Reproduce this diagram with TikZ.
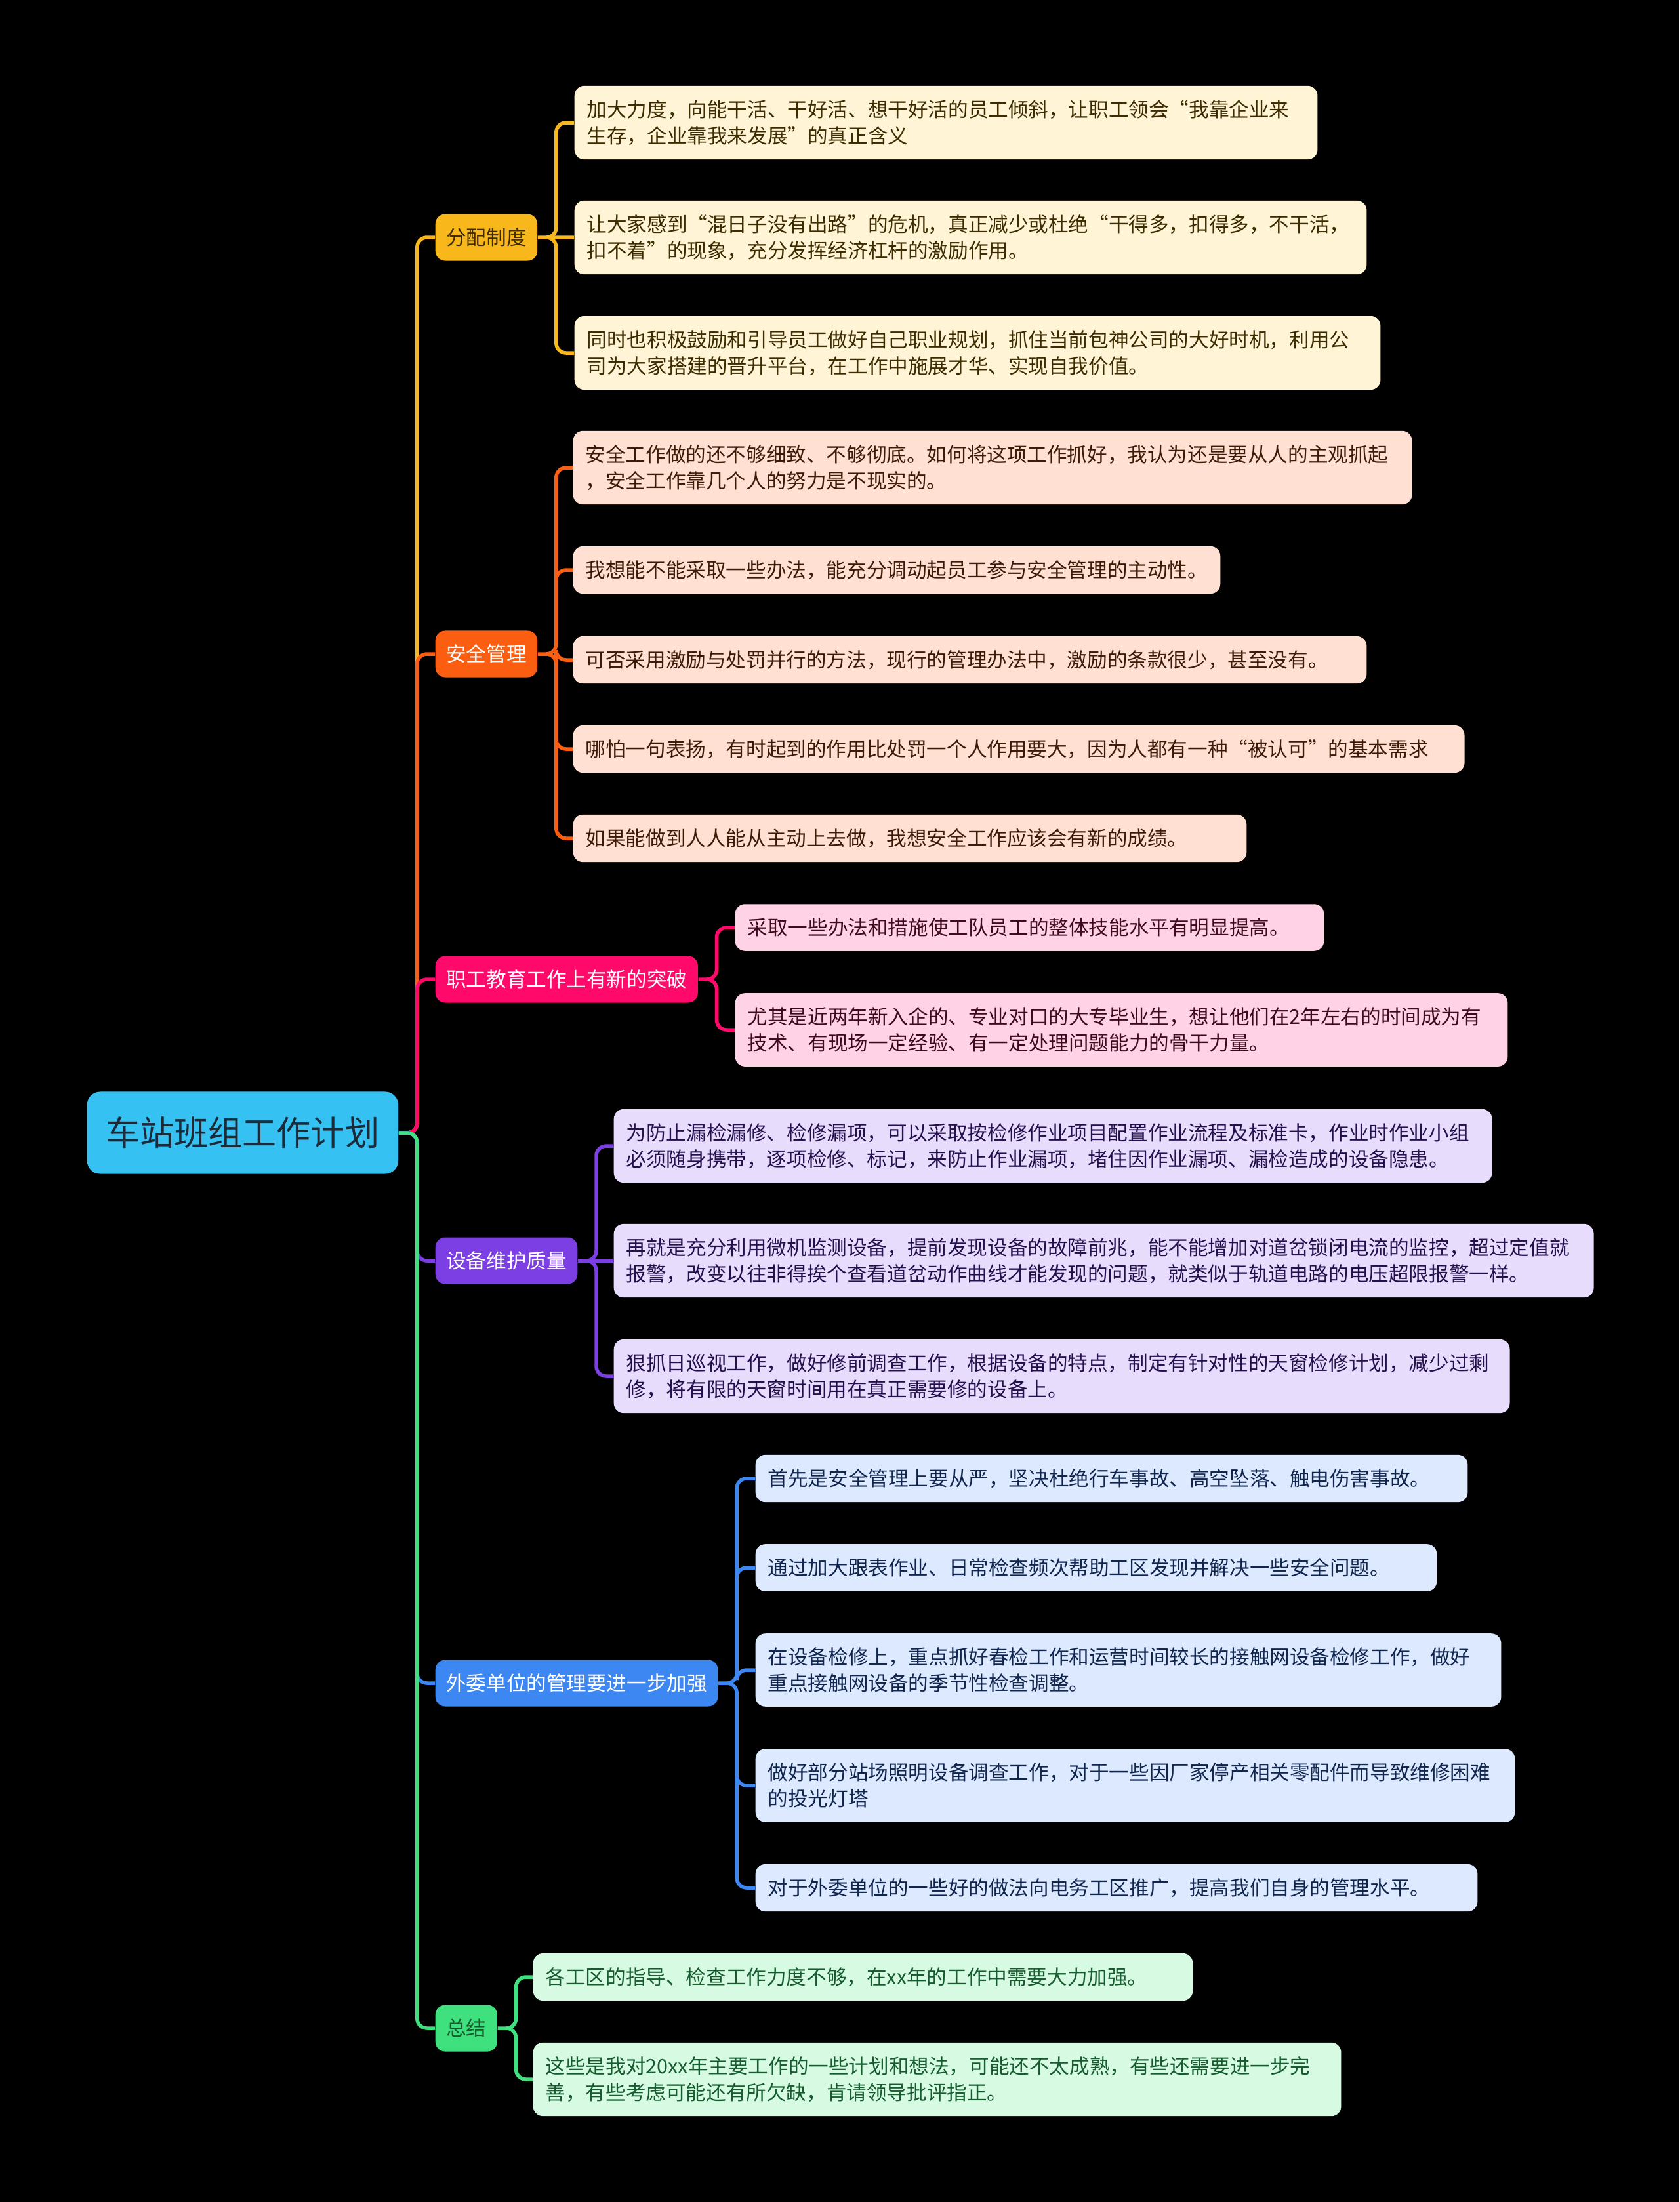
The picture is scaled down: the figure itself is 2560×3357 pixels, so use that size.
\documentclass[tikz,border=0pt]{standalone}
\usepackage{fontspec}
\setmainfont{Noto Sans CJK SC}
\usepackage{tikz}
\usetikzlibrary{positioning}

\definecolor{rootc}{HTML}{35C2F2}
\definecolor{roottx}{HTML}{1B2B3A}
\definecolor{fpc}{HTML}{F8B81C}
\definecolor{fpl}{HTML}{FFF4D6}
\definecolor{fptx}{HTML}{3D2C00}
\definecolor{aqc}{HTML}{FB5E10}
\definecolor{aql}{HTML}{FFE0D2}
\definecolor{aqtx}{HTML}{3E1A08}
\definecolor{zgc}{HTML}{FF0A6B}
\definecolor{zgl}{HTML}{FFD3E5}
\definecolor{zgtx}{HTML}{3F0A1E}
\definecolor{sbc}{HTML}{7C3FE3}
\definecolor{sbl}{HTML}{E7DCFB}
\definecolor{sbtx}{HTML}{25104F}
\definecolor{wwc}{HTML}{3D87F2}
\definecolor{wwl}{HTML}{DCE9FE}
\definecolor{wwtx}{HTML}{11264F}
\definecolor{zjc}{HTML}{3FE17F}
\definecolor{zjl}{HTML}{D7FAE3}
\definecolor{zjtx}{HTML}{155C2E}

\newcommand{\leaffont}{\fontsize{8.7}{11.4}\selectfont}

\begin{document}
\begin{tikzpicture}[
  x=0.01cm, y=-0.01cm,
  main/.style={rectangle, rounded corners=0.2cm, fill=rootc, text=roottx,
    font=\fontsize{14.8}{18}\selectfont, inner xsep=0.29cm,
    minimum height=1.25cm, anchor=west},
  topic/.style={rectangle, rounded corners=0.15cm, inner xsep=0.165cm,
    minimum height=0.71cm, anchor=west, font=\leaffont},
  leaf/.style={rectangle, rounded corners=0.15cm, inner xsep=0.19cm,
    inner ysep=0.215cm, minimum height=0.71cm, align=left, anchor=west,
    font=\leaffont},
  fpT/.style={topic, fill=fpc, text=fptx},
  fpL/.style={leaf, fill=fpl, text=fptx},
  aqT/.style={topic, fill=aqc, text=white},
  aqL/.style={leaf, fill=aql, text=aqtx},
  zgT/.style={topic, fill=zgc, text=white},
  zgL/.style={leaf, fill=zgl, text=zgtx},
  sbT/.style={topic, fill=sbc, text=white},
  sbL/.style={leaf, fill=sbl, text=sbtx},
  wwT/.style={topic, fill=wwc, text=white},
  wwL/.style={leaf, fill=wwl, text=wwtx},
  zjT/.style={topic, fill=zjc, text=zjtx},
  zjL/.style={leaf, fill=zjl, text=zjtx},
  wire/.style={line width=0.055cm, rounded corners=0.15cm}
]
\fill[black] (0,0) rectangle (2560,3357);

% root and main topics
\node[main] (root) at (132,1727) {车站班组工作计划};
\node[fpT] (fp) at (663,362) {分配制度};
\node[aqT] (aq) at (663,997) {安全管理};
\node[zgT] (zg) at (663,1493) {职工教育工作上有新的突破};
\node[sbT] (sb) at (663,1922) {设备维护质量};
\node[wwT] (ww) at (663,2566) {外委单位的管理要进一步加强};
\node[zjT] (zj) at (663,3092) {总结};

% 分配制度
\node[fpL, text width=10.94cm] (fp1) at (875,187)
  {加大力度，向能干活、干好活、想干好活的员工倾斜，让职工领会“我靠企业来\\
   生存，企业靠我来发展”的真正含义};
\node[fpL, text width=11.69cm] (fp2) at (875,362)
  {让大家感到“混日子没有出路”的危机，真正减少或杜绝“干得多，扣得多，不干活，\\
   扣不着”的现象，充分发挥经济杠杆的激励作用。};
\node[fpL, text width=11.90cm] (fp3) at (875,538)
  {同时也积极鼓励和引导员工做好自己职业规划，抓住当前包神公司的大好时机，利用公\\
   司为大家搭建的晋升平台，在工作中施展才华、实现自我价值。};

% 安全管理
\node[aqL, text width=12.40cm] (aq1) at (873,713)
  {安全工作做的还不够细致、不够彻底。如何将这项工作抓好，我认为还是要从人的主观抓起\\
   ，安全工作靠几个人的努力是不现实的。};
\node[aqL, text width=9.48cm] (aq2) at (873,869)
  {我想能不能采取一些办法，能充分调动起员工参与安全管理的主动性。};
\node[aqL, text width=11.71cm] (aq3) at (873,1006)
  {可否采用激励与处罚并行的方法，现行的管理办法中，激励的条款很少，甚至没有。};
\node[aqL, text width=13.20cm] (aq4) at (873,1142)
  {哪怕一句表扬，有时起到的作用比处罚一个人作用要大，因为人都有一种“被认可”的基本需求};
\node[aqL, text width=9.88cm] (aq5) at (873,1278)
  {如果能做到人人能从主动上去做，我想安全工作应该会有新的成绩。};

% 职工教育
\node[zgL, text width=8.59cm] (zg1) at (1120,1414)
  {采取一些办法和措施使工队员工的整体技能水平有明显提高。};
\node[zgL, text width=11.39cm] (zg2) at (1120,1570)
  {尤其是近两年新入企的、专业对口的大专毕业生，想让他们在2年左右的时间成为有\\
   技术、有现场一定经验、有一定处理问题能力的骨干力量。};

% 设备维护质量
\node[sbL, text width=13.00cm] (sb1) at (935,1747)
  {为防止漏检漏修、检修漏项，可以采取按检修作业项目配置作业流程及标准卡，作业时作业小组\\
   必须随身携带，逐项检修、标记，来防止作业漏项，堵住因作业漏项、漏检造成的设备隐患。};
\node[sbL, text width=14.55cm] (sb2) at (935,1922)
  {再就是充分利用微机监测设备，提前发现设备的故障前兆，能不能增加对道岔锁闭电流的监控，超过定值就\\
   报警，改变以往非得挨个查看道岔动作曲线才能发现的问题，就类似于轨道电路的电压超限报警一样。};
\node[sbL, text width=13.27cm] (sb3) at (935,2098)
  {狠抓日巡视工作，做好修前调查工作，根据设备的特点，制定有针对性的天窗检修计划，减少过剩\\
   修，将有限的天窗时间用在真正需要修的设备上。};

% 外委单位
\node[wwL, text width=10.47cm] (ww1) at (1151,2254)
  {首先是安全管理上要从严，坚决杜绝行车事故、高空坠落、触电伤害事故。};
\node[wwL, text width=10.00cm] (ww2) at (1151,2390)
  {通过加大跟表作业、日常检查频次帮助工区发现并解决一些安全问题。};
\node[wwL, text width=10.98cm] (ww3) at (1151,2546)
  {在设备检修上，重点抓好春检工作和运营时间较长的接触网设备检修工作，做好\\
   重点接触网设备的季节性检查调整。};
\node[wwL, text width=11.19cm] (ww4) at (1151,2722)
  {做好部分站场照明设备调查工作，对于一些因厂家停产相关零配件而导致维修困难\\
   的投光灯塔};
\node[wwL, text width=10.62cm] (ww5) at (1151,2878)
  {对于外委单位的一些好的做法向电务工区推广，提高我们自身的管理水平。};

% 总结
\node[zjL, text width=9.67cm] (zj1) at (812,3014)
  {各工区的指导、检查工作力度不够，在xx年的工作中需要大力加强。};
\node[zjL, text width=11.93cm] (zj2) at (812,3170)
  {这些是我对20xx年主要工作的一些计划和想法，可能还不太成熟，有些还需要进一步完\\
   善，有些考虑可能还有所欠缺，肯请领导批评指正。};

% trunk
\draw[wire, fpc] (root.east) -- ++(28,0) |- (fp.west);
\draw[wire, aqc] (root.east) -- ++(28,0) |- (aq.west);
\draw[wire, zgc] (root.east) -- ++(28,0) |- (zg.west);
\draw[wire, sbc] (root.east) -- ++(28,0) |- (sb.west);
\draw[wire, wwc] (root.east) -- ++(28,0) |- (ww.west);
\draw[wire, zjc] (root.east) -- ++(28,0) |- (zj.west);

% branches
\draw[wire, fpc] (fp.east) -- ++(28,0) |- (fp1.west)
  (fp.east) -- (fp2.west)
  (fp.east) -- ++(28,0) |- (fp3.west);
\draw[wire, aqc] (aq.east) -- ++(28,0) |- (aq1.west)
  (aq.east) -- ++(28,0) |- (aq2.west)
  (aq.east) -- ++(28,0) |- (aq3.west)
  (aq.east) -- ++(28,0) |- (aq4.west)
  (aq.east) -- ++(28,0) |- (aq5.west);
\draw[wire, zgc] (zg.east) -- ++(28,0) |- (zg1.west)
  (zg.east) -- ++(28,0) |- (zg2.west);
\draw[wire, sbc] (sb.east) -- ++(28,0) |- (sb1.west)
  (sb.east) -- (sb2.west)
  (sb.east) -- ++(28,0) |- (sb3.west);
\draw[wire, wwc] (ww.east) -- ++(28,0) |- (ww1.west)
  (ww.east) -- ++(28,0) |- (ww2.west)
  (ww.east) -- ++(28,0) |- (ww3.west)
  (ww.east) -- ++(28,0) |- (ww4.west)
  (ww.east) -- ++(28,0) |- (ww5.west);
\draw[wire, zjc] (zj.east) -- ++(28,0) |- (zj1.west)
  (zj.east) -- ++(28,0) |- (zj2.west);
\end{tikzpicture}
\end{document}
